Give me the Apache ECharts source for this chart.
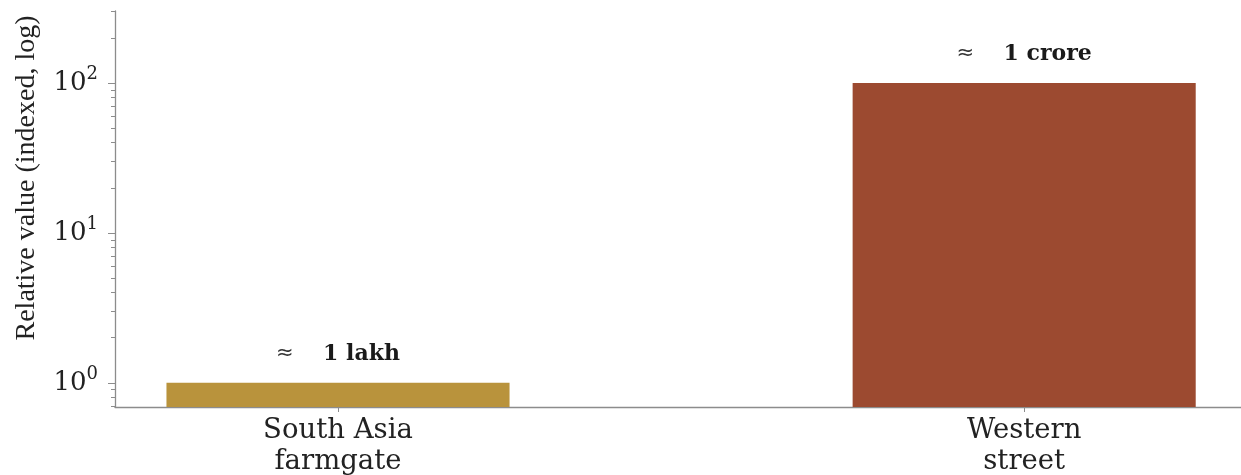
<!DOCTYPE html>
<html><head><meta charset="utf-8">
<script src="https://cdn.jsdelivr.net/npm/echarts@6/dist/echarts.min.js"></script>
<style>html,body{margin:0;padding:0;background:#fff}#c{width:1241px;height:475px}</style>
</head><body><div id="c"></div>
<script>
const categories = ['South Asia\nfarmgate', 'Western\nstreet'];
const values = [1, 100];
const annotations = ['1 lakh', '1 crore'];
const barColors = ['#b9933c', '#9c4a30'];
const yMajorTicks = [1, 10, 100];
const yMinorTicks = [0.7, 0.8, 0.9, 2, 3, 4, 5, 6, 7, 8, 9, 20, 30, 40, 50, 60, 70, 80, 90, 200, 300];
const yTitle = 'Relative value (indexed, log)';

const yMin = 0.69, yMax = 302;
const xMin = -0.325, xMax = 1.316;
const barWidth = 0.5;
const serif = 'DejaVu Serif';
const axisColor = '#8c8c8c';

const chart = echarts.init(document.getElementById('c'), null, {renderer: 'canvas'});

const yAxisCommon = {
  type: 'log', logBase: 10, min: yMin, max: yMax,
  splitLine: {show: false}
};

chart.setOption({
  animation: false,
  backgroundColor: '#ffffff',
  grid: {left: 115, top: 11, right: 0, height: 396, containLabel: false, outerBoundsMode: 'none'},
  xAxis: {
    type: 'value', min: xMin, max: xMax,
    splitLine: {show: false},
    axisLine: {onZero: false, lineStyle: {color: axisColor, width: 1.3}},
    axisTick: {customValues: [0, 1], length: 5, lineStyle: {color: axisColor}},
    axisLabel: {
      customValues: [0, 1],
      formatter: v => categories[Math.round(v)],
      fontFamily: serif, fontSize: 27.5, color: '#222', lineHeight: 31, margin: 8
    }
  },
  yAxis: [
    Object.assign({}, yAxisCommon, {
      axisLine: {show: true, onZero: false, lineStyle: {color: axisColor, width: 1.3}},
      axisTick: {customValues: yMajorTicks, length: 7, lineStyle: {color: axisColor}},
      axisLabel: {
        customValues: yMajorTicks,
        margin: 17,
        formatter: v => '{b|10}{s|' + Math.round(Math.log10(v)) + '}',
        rich: {
          b: {fontFamily: serif, fontSize: 26, color: '#222', lineHeight: 36},
          s: {fontFamily: serif, fontSize: 18, color: '#222', lineHeight: 18, verticalAlign: 'top'}
        }
      }
    }),
    Object.assign({}, yAxisCommon, {
      position: 'left',
      axisLine: {show: false, onZero: false},
      axisTick: {customValues: yMinorTicks, length: 4, lineStyle: {color: axisColor}},
      axisLabel: {show: false}
    })
  ],
  graphic: [{
    type: 'text', x: 27, y: 178, rotation: Math.PI / 2,
    style: {text: yTitle, fontFamily: 'Liberation Serif', fontSize: 28, fill: '#222',
            align: 'center', verticalAlign: 'middle'}
  }],
  series: [{
    type: 'custom',
    clip: false,
    data: values.map((v, i) => [i, v]),
    renderItem: function (params, api) {
      const i = params.dataIndex;
      const x = api.value(0), v = api.value(1);
      const p1 = api.coord([x - barWidth / 2, v]);
      const p2 = api.coord([x + barWidth / 2, yMin]);
      return {
        type: 'group',
        children: [{
          type: 'rect',
          shape: {x: p1[0], y: p1[1], width: p2[0] - p1[0], height: p2[1] - p1[1]},
          style: {fill: barColors[i]}
        }, {
          type: 'text',
          x: (p1[0] + p2[0]) / 2, y: p1[1] - 29,
          style: {
            text: '{a|≈}{b|' + annotations[i] + '}',
            align: 'center', verticalAlign: 'middle',
            rich: {
              a: {fontFamily: 'DejaVu Sans', fontSize: 21, fill: '#333', width: 47, align: 'left'},
              b: {fontFamily: serif, fontSize: 22, fontWeight: 'bold', fill: '#1a1a1a'}
            }
          }
        }]
      };
    }
  }]
});
</script>
</body></html>
